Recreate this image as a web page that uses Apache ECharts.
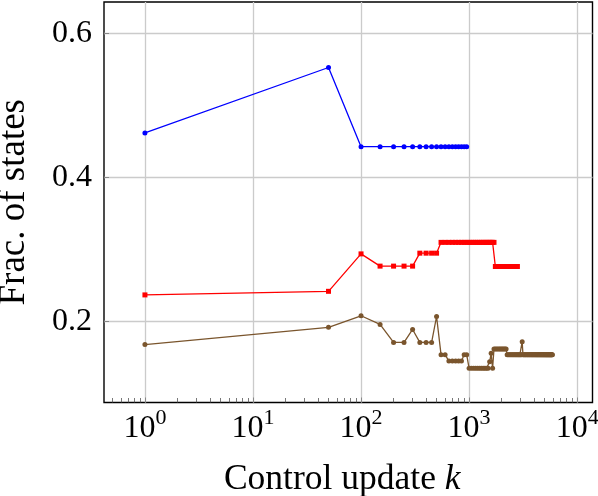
<!DOCTYPE html>
<html>
<head>
<meta charset="utf-8">
<script src="https://cdn.jsdelivr.net/npm/echarts@6/dist/echarts.min.js"></script>
<style>
  html, body { margin: 0; padding: 0; background: #fff; }
  #container { width: 598px; height: 496px; }
</style>
</head>
<body>
<div id="container"></div>
<script>
// control update k and fraction of states
const kBlue = [1, 50, 100, 150, 200, 250, 300, 350, 400, 450, 500, 550, 600, 650, 700, 750, 800, 850, 900, 950];
const yBlue = [0.462, 0.553, 0.443, 0.443, 0.443, 0.443, 0.443, 0.443, 0.443, 0.443, 0.443, 0.443, 0.443, 0.443, 0.443, 0.443, 0.443, 0.443, 0.443, 0.443];

const kRed = [1, 50,
  100, 150, 200, 250, 300, 350, 400, 450, 500, 550, 600, 650, 700, 750, 800, 850, 900, 950,
  1000, 1050, 1100, 1150, 1200, 1250, 1300, 1350, 1400, 1450, 1500, 1550, 1600, 1650, 1700, 1750, 1800, 1850, 1900, 1950,
  2000, 2050, 2100, 2150, 2200, 2250, 2300, 2350, 2400, 2450, 2500, 2550, 2600, 2650, 2700, 2750, 2800];
const yRed = [0.237, 0.242,
  0.294, 0.277, 0.277, 0.277, 0.277, 0.295, 0.295, 0.295, 0.295, 0.310, 0.310, 0.310, 0.310, 0.310, 0.310, 0.310, 0.310, 0.310,
  0.310, 0.310, 0.310, 0.310, 0.310, 0.310, 0.310, 0.310, 0.310, 0.310, 0.310, 0.310, 0.310, 0.310, 0.310, 0.2765, 0.2765, 0.2765, 0.2765, 0.2765,
  0.2765, 0.2765, 0.2765, 0.2765, 0.2765, 0.2765, 0.2765, 0.2765, 0.2765, 0.2765, 0.2765, 0.2765, 0.2765, 0.2765, 0.2765, 0.2765, 0.2765];

const kBrown = [1, 50,
  100, 150, 200, 250, 300, 350, 400, 450, 500, 550, 600, 650, 700, 750, 800, 850, 900, 950,
  1000, 1050, 1100, 1150, 1200, 1250, 1300, 1350, 1400, 1450, 1500, 1550, 1600, 1650, 1700, 1750, 1800, 1850, 1900, 1950,
  2000, 2050, 2100, 2150, 2200, 2250, 2300, 2350, 2400, 2450, 2500, 2550, 2600, 2650, 2700, 2750, 2800, 2850, 2900, 2950,
  3000, 3050, 3100, 3150, 3200, 3250, 3300, 3350, 3400, 3450, 3500, 3550, 3600, 3650, 3700, 3750, 3800, 3850, 3900, 3950,
  4000, 4050, 4100, 4150, 4200, 4250, 4300, 4350, 4400, 4450, 4500, 4550, 4600, 4650, 4700, 4750, 4800, 4850, 4900, 4950,
  5000, 5050, 5100, 5150, 5200, 5250, 5300, 5350, 5400, 5450, 5500, 5550, 5600, 5650, 5700, 5750, 5800, 5850, 5900];
const yBrown = [0.168, 0.192,
  0.208, 0.196, 0.171, 0.171, 0.189, 0.171, 0.171, 0.171, 0.207, 0.154, 0.154, 0.145, 0.145, 0.145, 0.145, 0.145, 0.154, 0.154,
  0.135, 0.135, 0.135, 0.135, 0.135, 0.135, 0.135, 0.135, 0.135, 0.135, 0.135, 0.144, 0.156, 0.135, 0.162, 0.162, 0.162, 0.162, 0.162, 0.162,
  0.162, 0.162, 0.162, 0.162, 0.162, 0.154, 0.154, 0.154, 0.154, 0.154, 0.154, 0.154, 0.154, 0.154, 0.154, 0.154, 0.154, 0.154, 0.154, 0.154,
  0.154, 0.154, 0.172, 0.154, 0.154, 0.154, 0.154, 0.154, 0.154, 0.154, 0.154, 0.154, 0.154, 0.154, 0.154, 0.154, 0.154, 0.154, 0.154, 0.154,
  0.154, 0.154, 0.154, 0.154, 0.154, 0.154, 0.154, 0.154, 0.154, 0.154, 0.154, 0.154, 0.154, 0.154, 0.154, 0.154, 0.154, 0.154, 0.154, 0.154,
  0.154, 0.154, 0.154, 0.154, 0.154, 0.154, 0.154, 0.154, 0.154, 0.154, 0.154, 0.154, 0.154, 0.154, 0.154, 0.154, 0.154, 0.154, 0.154];

const minorTicks = [0.5, 0.6, 0.7, 0.8, 0.9, 2, 3, 4, 5, 6, 7, 8, 9, 20, 30, 40, 50, 60, 70, 80, 90,
  200, 300, 400, 500, 600, 700, 800, 900, 2000, 3000, 4000, 5000, 6000, 7000, 8000, 9000];

const xMin = 0.418, xMax = 13870;
const yMin = 0.0875, yMax = 0.644;

const font = 'Liberation Serif';
const gridLine = { show: true, showMinLine: false, showMaxLine: false, lineStyle: { color: '#cbcbcb', width: 1.3 } };

function pairs(ks, ys) {
    return ks.map((k, i) => [k, ys[i]]);
}

var dom = document.getElementById('container');
var myChart = echarts.init(dom, null, { renderer: 'canvas' });

var option = {
    animation: false,
    grid: {
        left: 104, right: 5.5, top: 2, bottom: 93.5,
        containLabel: false,
        outerBoundsMode: 'none',
        show: true,
        borderColor: '#000',
        borderWidth: 1.4
    },
    xAxis: [{
        type: 'log',
        position: 'bottom',
        min: xMin, max: xMax,
        axisLine: { show: false },
        axisTick: { show: true, inside: true, length: 5, lineStyle: { color: '#888', width: 1 } },
        splitLine: gridLine,
        axisLabel: {
            showMinLabel: false, showMaxLabel: false,
            margin: 10,
            formatter: (v) => '{b|10}{s|' + Math.round(Math.log10(v)) + '}',
            rich: {
                b: { fontFamily: font, fontSize: 32, color: '#000', lineHeight: 32, verticalAlign: 'bottom' },
                s: { fontFamily: font, fontSize: 22, color: '#000', lineHeight: 22, padding: [0, 0, 15, 0], verticalAlign: 'bottom' }
            }
        },
        name: '{n|Control update }{i|k}',
        nameLocation: 'middle',
        nameGap: 59,
        nameTextStyle: {
            padding: [0, 12, 0, 0],
            rich: {
                n: { fontFamily: font, fontSize: 35.5, color: '#000' },
                i: { fontFamily: font, fontSize: 35.5, color: '#000', fontStyle: 'italic' }
            }
        }
    }, {
        type: 'log',
        position: 'bottom',
        min: xMin, max: xMax,
        axisLine: { show: false },
        axisLabel: { show: false },
        splitLine: { show: false },
        axisTick: { show: true, inside: true, length: 4.5, customValues: minorTicks, lineStyle: { color: '#555', width: 0.8 } }
    }],
    yAxis: [{
        type: 'value',
        position: 'left',
        min: yMin, max: yMax,
        splitNumber: 3,
        axisLine: { show: false },
        axisTick: { show: true, inside: true, length: 5, lineStyle: { color: '#888' } },
        splitLine: gridLine,
        axisLabel: {
            showMinLabel: false, showMaxLabel: false,
            margin: 12,
            fontFamily: font, fontSize: 32, color: '#000',
            formatter: (v) => v.toFixed(1)
        },
        name: 'Frac. of states',
        nameLocation: 'middle',
        nameGap: 71,
        nameTextStyle: { fontFamily: font, fontSize: 37, color: '#000' }
    }],
    series: [{
        name: 'blue',
        type: 'line',
        data: pairs(kBlue, yBlue),
        color: '#0000ff',
        lineStyle: { width: 1.3 },
        symbol: 'circle',
        symbolSize: 5,
        itemStyle: { color: '#0000ff' }
    }, {
        name: 'red',
        type: 'line',
        data: pairs(kRed, yRed),
        color: '#ff0000',
        lineStyle: { width: 1.3 },
        symbol: 'rect',
        symbolSize: 5,
        itemStyle: { color: '#ff0000' }
    }, {
        name: 'brown',
        type: 'line',
        data: pairs(kBrown, yBrown),
        color: '#7a552d',
        lineStyle: { width: 1.3 },
        symbol: 'circle',
        symbolSize: 5,
        itemStyle: { color: '#7a552d' }
    }]
};

myChart.setOption(option);
window.addEventListener('resize', myChart.resize);
</script>
</body>
</html>
